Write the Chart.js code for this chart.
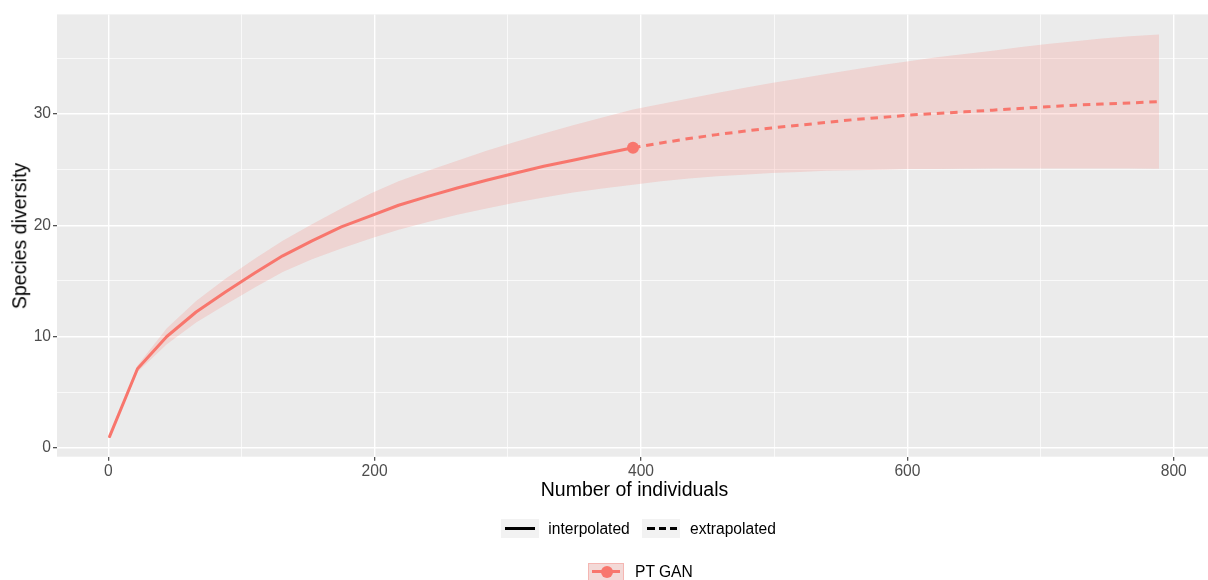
<!DOCTYPE html>
<html>
<head>
<meta charset="utf-8">
<script src="https://cdn.jsdelivr.net/npm/chart.js@4.4.1/dist/chart.umd.min.js"></script>
<style>
  html, body { margin:0; padding:0; background:#fff; overflow:hidden; }
  body { width:1208px; height:580px; position:relative; font-family:'Liberation Sans', Arial, sans-serif; }
  #wrap { position:absolute; left:0; top:0; width:1219px; height:580px; }
  .t { position:absolute; white-space:nowrap; color:#000; }
</style>
</head>
<body>
<div id="wrap"><canvas id="c" width="1219" height="580" style="width:1219px;height:580px"></canvas></div>

<div class="t" id="xtitle" style="left:634.5px; top:480px; font-size:19.5px; line-height:19.5px; transform:translateX(-50%);">Number of individuals</div>
<div class="t" id="ytitle" style="left:19.5px; top:235.5px; font-size:19.5px; line-height:19.5px; transform:translate(-50%,-50%) rotate(-90deg);">Species diversity</div>

<!-- legend row 1 -->
<div style="position:absolute; left:500.7px; top:519.3px; width:38.6px; height:18.7px; background:#F2F2F2;">
  <div style="position:absolute; left:4.3px; top:7.9px; width:30px; height:3px; background:#000;"></div>
</div>
<div class="t" style="left:548.3px; top:519px; font-size:15.6px; line-height:20px;">interpolated</div>
<div style="position:absolute; left:642.3px; top:519.3px; width:37.7px; height:18.7px; background:#F2F2F2;">
  <div style="position:absolute; left:4.4px; top:7.9px; width:30px; height:3px; background:repeating-linear-gradient(to right,#000 0,#000 7.5px,transparent 7.5px,transparent 11.7px);"></div>
</div>
<div class="t" style="left:690px; top:519px; font-size:15.6px; line-height:20px;">extrapolated</div>

<!-- legend row 2 -->
<div style="position:absolute; left:588.3px; top:563.3px; width:35.7px; height:18.7px; background:#F2F2F2;">
  <div style="position:absolute; left:0; top:0; width:33.7px; height:16.7px; border:1px solid rgba(248,118,109,0.35); background:rgba(248,118,109,0.2);"></div>
  <div style="position:absolute; left:3.5px; top:7px; width:28.7px; height:3px; background:#F8766D;"></div>
  <div style="position:absolute; left:12.4px; top:2.5px; width:12px; height:12px; border-radius:50%; background:#F8766D;"></div>
</div>
<div class="t" style="left:635px; top:562px; font-size:15.6px; line-height:20px;">PT GAN</div>

<script>
// ---- data ----
const sampleSize = [1,22,44,66,88,110,131,153,175,197,218,240,262,284,306,327,349,371,394,415,436,457,477,498,519,539,560,581,601,622,643,664,684,705,726,746,767,789];
const diversity  = [1.0,7.1,10.0,12.2,14.0,15.7,17.25,18.6,19.85,20.85,21.8,22.6,23.35,24.05,24.7,25.3,25.85,26.4,26.97,27.4,27.8,28.15,28.45,28.75,29.0,29.25,29.5,29.7,29.9,30.05,30.2,30.35,30.5,30.65,30.8,30.9,31.0,31.12];
const upperCI    = [1.0,7.4,10.75,13.2,15.2,17.0,18.6,20.1,21.5,22.85,23.95,24.9,25.8,26.7,27.5,28.25,29.0,29.7,30.4,30.9,31.4,31.9,32.35,32.8,33.2,33.6,34.0,34.4,34.75,35.1,35.4,35.7,36.0,36.3,36.55,36.8,37.0,37.15];
const lowerCI    = [1.0,6.8,9.3,11.25,12.85,14.4,15.8,16.95,17.9,18.8,19.6,20.3,20.95,21.5,22.05,22.5,22.95,23.3,23.65,23.95,24.2,24.4,24.55,24.7,24.8,24.9,24.95,25.0,25.05,25.07,25.08,25.1,25.1,25.1,25.1,25.1,25.1,25.08];
const observedSize = 394;
const observedDiversity = 26.97;
const xGridValues = [0,100,200,300,400,500,600,700,800];
const xTickLabels = [0,200,400,600,800];
const yGridValues = [0,5,10,15,20,25,30,35];
const yTickLabels = [0,10,20,30];
const seriesName = 'PT GAN';

// ---- build ----
const obsIdx = sampleSize.indexOf(observedSize);
const pts = (ys, from, to) => sampleSize.slice(from, to).map((x, i) => ({x, y: ys[from + i]}));
const RED = '#F8766D';
const FONT = "'Liberation Sans', Arial, sans-serif";

const panelBg = {
  id: 'panelBg',
  beforeDraw(chart) {
    const {ctx, chartArea: a} = chart;
    ctx.save();
    ctx.fillStyle = '#EBEBEB';
    ctx.fillRect(a.left, a.top, a.right - a.left, a.bottom - a.top);
    ctx.restore();
  }
};
const noPad = s => { s.paddingLeft = 0; s.paddingRight = 0; s.paddingTop = 0; s.paddingBottom = 0; };

new Chart(document.getElementById('c'), {
  type: 'line',
  data: {
    datasets: [
      { label: 'lower', data: pts(lowerCI, 0, sampleSize.length), borderWidth: 0, pointRadius: 0, fill: false, borderColor: 'rgba(0,0,0,0)' },
      { label: 'upper', data: pts(upperCI, 0, sampleSize.length), borderWidth: 0, pointRadius: 0, fill: '-1', backgroundColor: 'rgba(248,118,109,0.2)', borderColor: 'rgba(0,0,0,0)' },
      { label: seriesName + ' interpolated', data: pts(diversity, 0, obsIdx + 1), borderColor: RED, borderWidth: 3, pointRadius: 0, fill: false, borderCapStyle: 'round', borderJoinStyle: 'round' },
      { label: seriesName + ' extrapolated', data: pts(diversity, obsIdx, sampleSize.length), borderColor: RED, borderWidth: 3, borderDash: [7.5, 5.8], pointRadius: 0, fill: false },
      { label: seriesName + ' observed', data: [{x: observedSize, y: observedDiversity}], showLine: false, pointRadius: 6, pointBackgroundColor: RED, pointBorderWidth: 0, pointBorderColor: RED }
    ]
  },
  options: {
    responsive: false,
    devicePixelRatio: 1,
    animation: false,
    events: [],
    layout: { padding: { top: 14.4, right: 0, left: 0, bottom: 0 } },
    plugins: { legend: { display: false }, tooltip: { enabled: false } },
    elements: { line: { tension: 0 } },
    scales: {
      x: {
        type: 'linear',
        min: -38.45, max: 829.45,
        afterBuildTicks: s => { s.ticks = xGridValues.map(v => ({value: v})); },
        afterFit: s => { s.height = 123.3; noPad(s); },
        border: { display: false },
        grid: {
          color: '#FFFFFF',
          lineWidth: c => xTickLabels.includes(c.tick.value) ? 1.4 : 0.7,
          tickColor: c => xTickLabels.includes(c.tick.value) ? '#333333' : 'rgba(0,0,0,0)',
          tickWidth: 1.1,
          tickLength: 4,
          drawTicks: true
        },
        ticks: {
          autoSkip: false, maxRotation: 0,
          padding: 2,
          color: '#4D4D4D',
          font: { family: FONT, size: 15.6 },
          callback: v => xTickLabels.includes(v) ? String(v) : ''
        }
      },
      y: {
        type: 'linear',
        min: -0.81, max: 38.96,
        afterBuildTicks: s => { s.ticks = yGridValues.map(v => ({value: v})); },
        afterFit: s => { s.width = 57; noPad(s); },
        border: { display: false },
        grid: {
          color: '#FFFFFF',
          lineWidth: c => yTickLabels.includes(c.tick.value) ? 1.4 : 0.7,
          tickColor: c => yTickLabels.includes(c.tick.value) ? '#333333' : 'rgba(0,0,0,0)',
          tickWidth: 1.1,
          tickLength: 4,
          drawTicks: true
        },
        ticks: {
          autoSkip: false,
          padding: 2,
          color: '#4D4D4D',
          font: { family: FONT, size: 15.6 },
          callback: v => yTickLabels.includes(v) ? String(v) : ''
        }
      }
    }
  },
  plugins: [panelBg]
});
</script>
</body>
</html>
